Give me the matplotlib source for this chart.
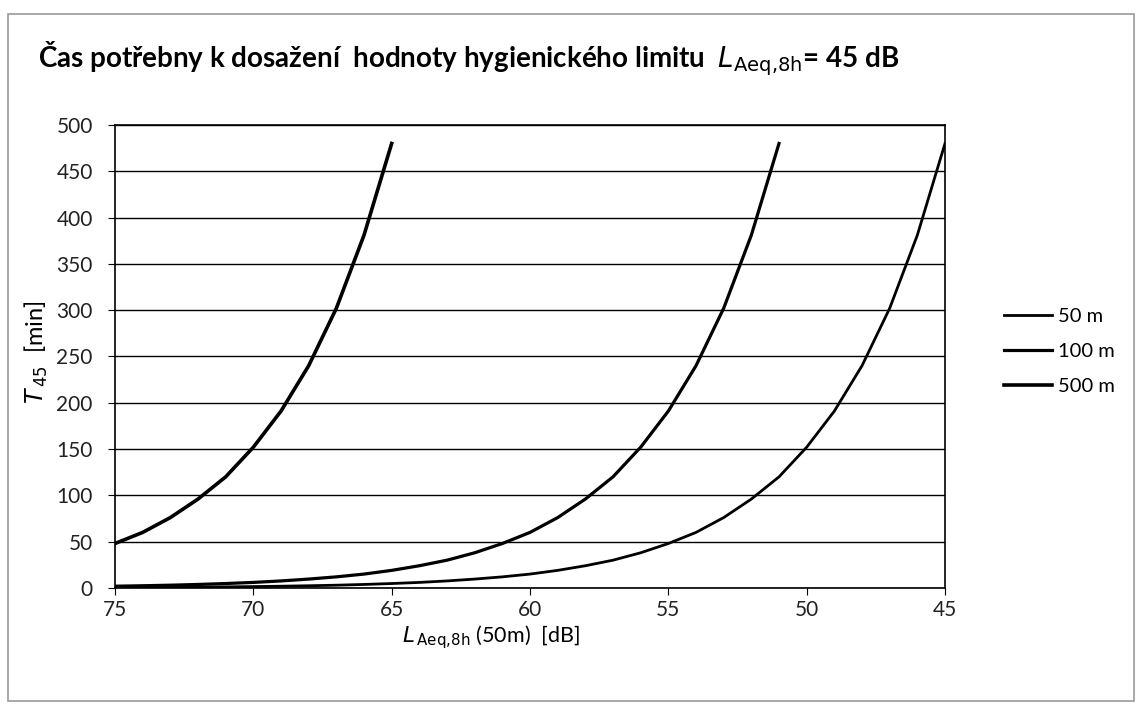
import matplotlib
matplotlib.use("Agg")
import matplotlib.pyplot as plt
from matplotlib.patches import Rectangle

plt.rcParams['font.family'] = ['Lato', 'DejaVu Sans']

# Data
L_50m = [75, 74, 73, 72, 71, 70, 69, 68, 67, 66, 65, 64, 63, 62, 61, 60,
         59, 58, 57, 56, 55, 54, 53, 52, 51, 50, 49, 48, 47, 46, 45]
T_50m = [0.5, 0.6, 0.8, 1.0, 1.2, 1.5, 1.9, 2.4, 3.0, 3.8, 4.8, 6.0, 7.6, 9.6,
         12, 15, 19, 24, 30, 38, 48, 60, 76, 96, 120, 152, 191, 240, 302, 381, 480]
L_100m = [75, 74, 73, 72, 71, 70, 69, 68, 67, 66, 65, 64, 63, 62, 61, 60,
          59, 58, 57, 56, 55, 54, 53, 52, 51]
T_100m = [1.9, 2.4, 3.0, 3.8, 4.8, 6.0, 7.6, 9.6, 12, 15, 19, 24, 30, 38,
          48, 60, 76, 96, 120, 152, 191, 240, 302, 381, 480]
L_500m = [75, 74, 73, 72, 71, 70, 69, 68, 67, 66, 65]
T_500m = [48, 60, 76, 96, 120, 152, 191, 240, 302, 381, 480]

series_labels = ['50 m', '100 m', '500 m']
x_ticks = [75, 70, 65, 60, 55, 50, 45]
y_ticks = [0, 50, 100, 150, 200, 250, 300, 350, 400, 450, 500]

fig = plt.figure(figsize=(11.42, 7.12), dpi=100)
# scanned frame
fig.patches.append(Rectangle((0.007, 0.015), 0.986, 0.965, transform=fig.transFigure,
                             fill=False, edgecolor='#999999', lw=1.2))

ax = fig.add_axes([0.1007, 0.1742, 0.7268, 0.6503])
ax.plot(L_50m, T_50m, color='black', lw=2.0, label=series_labels[0])
ax.plot(L_100m, T_100m, color='black', lw=2.3, label=series_labels[1])
ax.plot(L_500m, T_500m, color='black', lw=2.6, label=series_labels[2])

ax.set_xlim(75, 45)
ax.set_ylim(0, 500)
ax.set_xticks(x_ticks)
ax.set_yticks(y_ticks)
ax.yaxis.grid(True, color='black', lw=1.0)
ax.set_axisbelow(True)
for s in ax.spines.values():
    s.set_color('black')
    s.set_linewidth(1.2)
ax.tick_params(axis='both', labelsize=15, color='black', direction='out', length=5,
               labelcolor='#222222')
ax.tick_params(axis='y', pad=11)
ax.tick_params(axis='x', pad=4)

fig.text(0.033, 0.918,
         r'Čas potřebny k dosažení  hodnoty hygienického limitu  $\mathit{L}$$_{\mathrm{Aeq{,}8h}}$= 45 dB',
         fontsize=20, fontweight='bold', ha='left', va='center')
fig.text(0.032, 0.506, r'$\mathit{T}$$_{\,45}$  [min]', rotation=90, fontsize=17,
         ha='center', va='center')
fig.text(0.43, 0.098, r'$\mathit{L}$$_{\,\mathrm{Aeq{,}8h}}$ (50m)  [dB]', fontsize=15.5,
         ha='center', va='baseline')

leg = fig.legend(loc='upper left', bbox_to_anchor=(0.879, 0.568), frameon=False,
                 fontsize=14.5, handlelength=2.4, handletextpad=0.3, labelspacing=0.9,
                 borderpad=0, borderaxespad=0)

fig.savefig('out.png', dpi=100)
